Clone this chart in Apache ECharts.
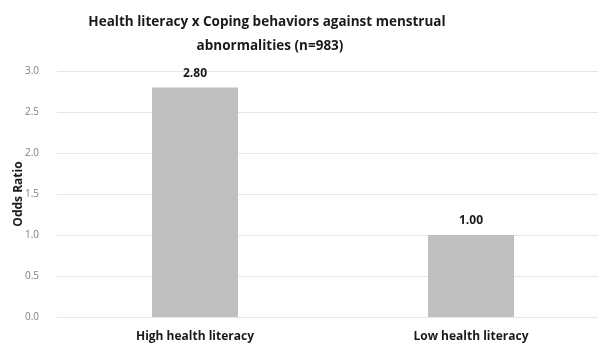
<!DOCTYPE html>
<html>
<head>
<meta charset="utf-8">
<script src="https://cdn.jsdelivr.net/npm/echarts@6/dist/echarts.min.js"></script>
<style>
  html, body { margin: 0; padding: 0; background: #fff; }
  #chart { width: 598px; height: 345px; }
</style>
</head>
<body>
<div id="chart"></div>
<script>
// Odds ratios of coping behaviours by health-literacy group
const categories = ['High health literacy', 'Low health literacy'];
const oddsRatios = [2.80, 1.00];
const yTicks = { min: 0, max: 3, interval: 0.5 };
const titleLines = [
  'Health literacy x Coping behaviors against menstrual',
  'abnormalities (n=983)'
];

const FONT = '"Open Sans", "Noto Sans", sans-serif';

const titleStyle = {
  fontFamily: FONT,
  fontSize: 13.5,
  fontWeight: 'bold',
  color: '#1a1a1a'
};

const chart = echarts.init(document.getElementById('chart'));
chart.setOption({
  animation: false,
  backgroundColor: '#ffffff',
  title: titleLines.map((t, i) => ({
    text: t,
    left: i === 0 ? 267 : 270,
    top: 15 + i * 24,
    textAlign: 'center',
    padding: 0,
    textStyle: titleStyle
  })),
  grid: {
    left: 57, top: 71, width: 552, height: 246,
    containLabel: false,
    outerBoundsMode: 'none'
  },
  xAxis: {
    type: 'category',
    data: categories,
    axisLine: { show: false },
    axisTick: { show: false },
    axisLabel: {
      fontFamily: FONT,
      fontSize: 12,
      fontWeight: 'bold',
      color: '#1a1a1a',
      margin: 14
    }
  },
  yAxis: {
    type: 'value',
    min: yTicks.min,
    max: yTicks.max,
    interval: yTicks.interval,
    name: 'Odds Ratio',
    nameLocation: 'middle',
    nameGap: 32,
    nameMoveOverlap: false,
    nameTextStyle: {
      fontFamily: FONT,
      fontSize: 12,
      fontWeight: 'bold',
      color: '#1a1a1a'
    },
    axisLine: { show: false },
    axisTick: { show: false },
    axisLabel: {
      fontFamily: FONT,
      fontSize: 10,
      color: '#7f7f7f',
      margin: 18,
      formatter: v => v.toFixed(1)
    },
    splitLine: { lineStyle: { color: '#e6e6e6', width: 1 } }
  },
  series: [{
    type: 'bar',
    data: oddsRatios,
    barWidth: 86,
    itemStyle: { color: '#bfbfbf' },
    label: {
      show: true,
      position: 'top',
      distance: 8,
      fontFamily: FONT,
      fontSize: 12,
      fontWeight: 'bold',
      color: '#1a1a1a',
      formatter: p => p.value.toFixed(2)
    }
  }]
});
</script>
</body>
</html>
